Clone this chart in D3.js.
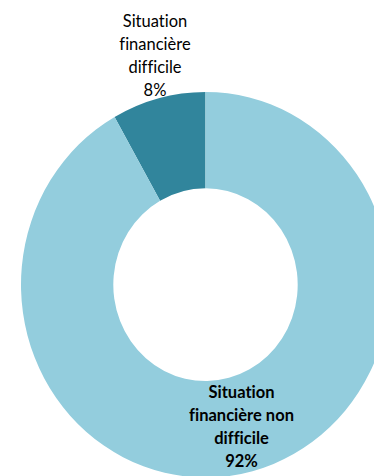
<!DOCTYPE html>
<html><head><meta charset="utf-8">
<script src="https://cdn.jsdelivr.net/npm/d3@7"></script>
<style>html,body{margin:0;padding:0;background:#fff;}svg{display:block;}text{font-variant-ligatures:none;font-feature-settings:"liga" 0,"clig" 0;}</style>
</head><body>
<script>
const categories = ["Situation financière difficile", "Situation financière non difficile"];
const values = [8.2, 91.8];
const labelLines = [["Situation", "financière", "difficile"], ["Situation", "financière non", "difficile"]];
const colors = ["#31859C", "#93CDDD"];

const W = 374, H = 476;
const cx = 205.5, cy = 284.7, rOuter = 184.5, rInner = 92.2, yScale = 1.045;

const svg = d3.select("body").append("svg").attr("width", W).attr("height", H);

const total = d3.sum(values);
const a0 = 2 * Math.PI * values[0] / total;
const pie = d3.pie().sort(null).value(d => d).startAngle(-a0).endAngle(2 * Math.PI - a0);
const arc = d3.arc().innerRadius(rInner).outerRadius(rOuter);

const g = svg.append("g").attr("transform", `translate(${cx},${cy}) scale(1,${yScale})`);
g.selectAll("path").data(pie(values)).join("path")
  .attr("d", arc).attr("fill", (d, i) => colors[i]);

const labelPos = [{x: 155, y: 27, weight: "normal"}, {x: 241.5, y: 398, weight: "bold"}];
const lh = 23;
labelLines.forEach((lines, i) => {
  const all = lines.concat([Math.round(values[i] / total * 100) + "%"]);
  const t = svg.append("text").attr("text-anchor", "middle")
    .attr("font-family", "Lato, 'Open Sans', sans-serif").attr("font-size", 16.5)
    .attr("font-weight", labelPos[i].weight).attr("fill", "#000");
  all.forEach((ln, j) => t.append("tspan").attr("x", labelPos[i].x).attr("y", labelPos[i].y + j * lh).text(ln));
});
</script>
</body></html>
